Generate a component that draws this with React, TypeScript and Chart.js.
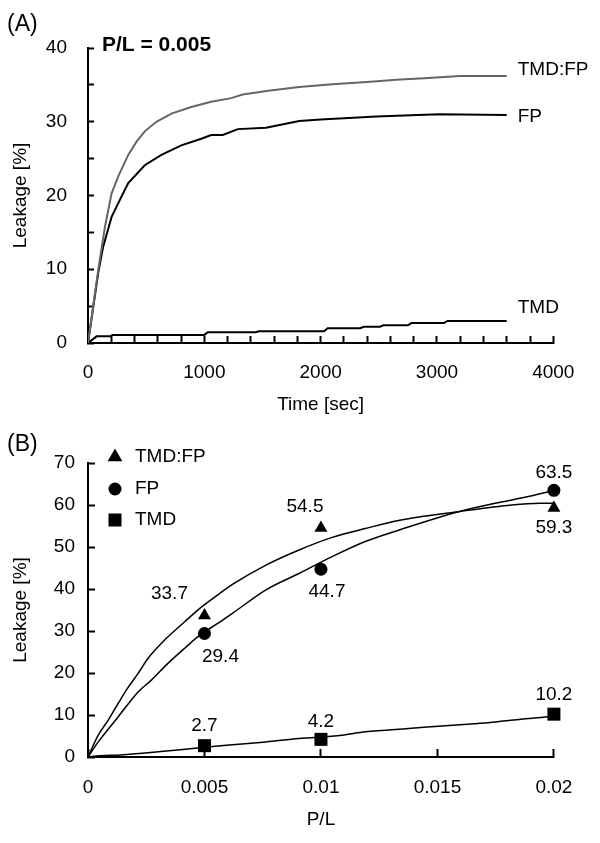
import { useEffect, useRef } from "react";
import { Chart, registerables } from "chart.js";
import { drawPoint } from "chart.js/helpers";

Chart.register(...registerables);

// ---------------- Panel A: leakage vs time (P/L = 0.005) ----------------
const timeTmdFp = [0, 88, 146, 203, 260, 346, 417, 488, 588, 717, 888, 1059, 1231, 1330, 1550, 1816, 2100, 2400, 2650, 2890, 3200, 3600];
const leakTmdFp = [0, 9.9, 15.8, 20.3, 22.6, 25.5, 27.3, 28.7, 30.0, 31.1, 32.0, 32.7, 33.2, 33.7, 34.2, 34.7, 35.1, 35.4, 35.7, 35.9, 36.2, 36.2];

const timeFp = [0, 88, 131, 203, 274, 346, 488, 631, 802, 974, 1059, 1159, 1288, 1530, 1816, 2000, 2480, 3015, 3600];
const leakFp = [0, 9.5, 13.1, 17.1, 19.4, 21.7, 24.1, 25.5, 26.8, 27.7, 28.2, 28.2, 29.0, 29.2, 30.1, 30.3, 30.7, 31.0, 30.9];

const timeTmd = [0, 74, 190, 210, 1000, 1030, 1440, 1470, 2030, 2060, 2340, 2370, 2510, 2540, 2750, 2780, 3060, 3090, 3600];
const leakTmd = [0, 0.9, 0.9, 1.1, 1.1, 1.45, 1.45, 1.6, 1.6, 2.0, 2.0, 2.2, 2.2, 2.4, 2.4, 2.7, 2.7, 3.0, 3.0];

const seriesNames = ["TMD:FP", "FP", "TMD"];
const noteA = "P/L = 0.005";
const xLabelsA = [0, 1000, 2000, 3000, 4000];
const yLabelsA = [0, 10, 20, 30, 40];

// ---------------- Panel B: leakage vs P/L ----------------
const plRatio = [0.005, 0.01, 0.02];
const measTmdFp = [33.7, 54.5, 59.3];
const measFp = [29.4, 44.7, 63.5];
const measTmd = [2.7, 4.2, 10.2];

const fitTmdFpX = [0, 0.00044, 0.00087, 0.0013, 0.00165, 0.00215, 0.00258, 0.0033, 0.00415, 0.0048, 0.00557, 0.0062, 0.00764, 0.00906, 0.01048, 0.0119, 0.01333, 0.0159, 0.01818, 0.0194, 0.02];
const fitTmdFpY = [0, 5.2, 8.8, 12.8, 16, 19.9, 23.5, 27.9, 32.2, 35.4, 38.6, 41.1, 45.7, 49.3, 52.3, 54.4, 56.3, 58.4, 60.0, 60.4, 60.4];

const fitFpX = [0, 0.00044, 0.0013, 0.00215, 0.00272, 0.00343, 0.00415, 0.0048, 0.00557, 0.0062, 0.00764, 0.00906, 0.01048, 0.0119, 0.01333, 0.0159, 0.01747, 0.0189, 0.0198];
const fitFpY = [0, 3.6, 9.6, 15.5, 18.3, 22.3, 25.9, 29.0, 31.8, 34.2, 39.8, 43.7, 47.7, 51.3, 54.0, 58.4, 60.4, 62.0, 63.2];

const fitTmdX = [0, 0.00051, 0.00137, 0.00235, 0.00336, 0.00479, 0.0062, 0.00764, 0.00906, 0.0109, 0.0119, 0.01376, 0.01474, 0.01675, 0.01761, 0.01859, 0.01974, 0.02];
const fitTmdY = [0, 0.3, 0.5, 0.9, 1.4, 2.2, 2.9, 3.6, 4.4, 5.2, 6.0, 6.8, 7.2, 8.0, 8.4, 9.0, 9.6, 9.8];

const xLabelsB = [0, 0.005, 0.01, 0.015, 0.02];
const yLabelsB = [0, 10, 20, 30, 40, 50, 60, 70];

// ---------------- fonts ----------------
function hasFont(name: string): boolean {
  const c = document.createElement("canvas").getContext("2d");
  if (!c) return false;
  const s = "TMD:FP 0123456789 Leakage [%]";
  c.font = "40px monospace";
  const a = c.measureText(s).width;
  c.font = `40px '${name}', monospace`;
  const b = c.measureText(s).width;
  return Math.abs(a - b) > 0.5;
}
const NARROW = hasFont("Liberation Sans Narrow");
const FAMILY = NARROW ? "'Liberation Sans Narrow', 'Liberation Sans', sans-serif" : "'Liberation Sans', Arial, sans-serif";
const K = NARROW ? 1 : 0.87;
const fs = (n: number) => Math.round(n * K);

const pts = (xs: number[], ys: number[]) => xs.map((x, i) => ({ x, y: ys[i] }));
const near = (v: number, list: number[]) => list.some((l) => Math.abs(l - v) < 1e-9);

const TICK = fs(22);
const LH = TICK * 1.2;

const annotA = {
  id: "annotA",
  afterDraw(chart: any) {
    const { ctx } = chart;
    const x = chart.scales.x;
    const y = chart.scales.y;
    const dy = [-6, 2, -13];
    ctx.save();
    ctx.fillStyle = "#000";
    ctx.textBaseline = "middle";
    ctx.textAlign = "left";
    ctx.font = `${fs(26)}px ${FAMILY}`;
    ctx.fillText("(A)", 7, 25);
    ctx.font = `bold ${fs(24)}px ${FAMILY}`;
    ctx.fillText(noteA, 102, 45);
    ctx.font = `${TICK}px ${FAMILY}`;
    chart.data.datasets.forEach((ds: any, i: number) => {
      const last = ds.data[ds.data.length - 1];
      ctx.fillText(ds.label, x.getPixelForValue(last.x) + 11, y.getPixelForValue(last.y) + dy[i]);
    });
    ctx.restore();
  },
};

const LABEL_OFFSETS = [
  [[-35, -22], [-16, -21], [0, 20]],
  [[16, 23], [6, 23], [0, -18]],
  [[0, -20], [0, -18], [0, -19]],
];

const annotB = {
  id: "annotB",
  afterDraw(chart: any) {
    const { ctx } = chart;
    const x = chart.scales.x;
    const y = chart.scales.y;
    ctx.save();
    ctx.fillStyle = "#000";
    ctx.textBaseline = "middle";
    ctx.textAlign = "left";
    ctx.font = `${fs(26)}px ${FAMILY}`;
    ctx.fillText("(B)", 7, 25);
    // legend
    const rows = [37, 69, 100];
    for (let s = 0; s < 3; s++) {
      const ds = chart.data.datasets[3 + s];
      ctx.fillStyle = "#000";
      const r = ds.pointStyle === "triangle" ? ds.pointRadius + 1 : ds.pointRadius;
      drawPoint(ctx, { pointStyle: ds.pointStyle, radius: r, rotation: 0, borderWidth: 0 } as any, 115, rows[s]);
      ctx.font = `${TICK}px ${FAMILY}`;
      ctx.fillText(ds.label, 135, rows[s]);
    }
    // value labels
    ctx.textAlign = "center";
    ctx.font = `${TICK}px ${FAMILY}`;
    for (let s = 0; s < 3; s++) {
      const ds = chart.data.datasets[3 + s];
      ds.data.forEach((p: any, i: number) => {
        const [ox, oy] = LABEL_OFFSETS[s][i];
        ctx.fillText(p.y.toFixed(1), x.getPixelForValue(p.x) + ox, y.getPixelForValue(p.y) + oy);
      });
    }
    ctx.restore();
  },
};

function axisCommon() {
  return {
    border: { color: "#000", width: 2 },
    ticks: { color: "#000", font: { family: FAMILY, size: TICK }, autoSkip: false, maxRotation: 0 },
  };
}

export default function App() {
  const refA = useRef<HTMLCanvasElement>(null);
  const refB = useRef<HTMLCanvasElement>(null);

  useEffect(() => {
    const titleFont = { family: FAMILY, size: TICK };
    const chartA = new Chart(refA.current!, {
      type: "line",
      data: {
        datasets: [
          { label: seriesNames[0], data: pts(timeTmdFp, leakTmdFp), borderColor: "#666666", borderWidth: 2, pointRadius: 0, tension: 0 },
          { label: seriesNames[1], data: pts(timeFp, leakFp), borderColor: "#000", borderWidth: 2, pointRadius: 0, tension: 0 },
          { label: seriesNames[2], data: pts(timeTmd, leakTmd), borderColor: "#000", borderWidth: 2, pointRadius: 0, tension: 0 },
        ],
      },
      options: {
        responsive: false,
        animation: false,
        events: [],
        layout: { padding: { left: 0, right: 45, top: 48, bottom: 0 } },
        plugins: { legend: { display: false }, tooltip: { enabled: false } },
        scales: {
          x: {
            type: "linear",
            min: 0,
            max: 4000,
            ...axisCommon(),
            ticks: {
              ...axisCommon().ticks,
              stepSize: 200,
              padding: 30 + 7 - LH / 2,
              callback: (v: any) => (near(Number(v), xLabelsA) ? String(v) : ""),
            },
            grid: { drawOnChartArea: false, drawTicks: true, tickLength: -7, tickWidth: 2, tickColor: "#000" },
            title: { display: true, text: "Time [sec]", color: "#000", font: titleFont, padding: { top: 0, bottom: Math.max(0, 15 - LH / 2) } },
            afterFit: (s: any) => { s.height = 77; },
          },
          y: {
            type: "linear",
            min: 0,
            max: 40,
            ...axisCommon(),
            ticks: {
              ...axisCommon().ticks,
              stepSize: 5,
              padding: 27,
              callback: (v: any) => (near(Number(v), yLabelsA) ? String(v) : ""),
            },
            grid: { drawOnChartArea: false, drawTicks: true, tickLength: -6, tickWidth: 2, tickColor: "#000" },
            title: { display: true, text: "Leakage [%]", color: "#000", font: titleFont, padding: { top: Math.max(0, 21 - LH / 2), bottom: 0 } },
            afterFit: (s: any) => { s.width = 88; },
          },
        },
      } as any,
      plugins: [annotA],
    });

    const chartB = new Chart(refB.current!, {
      type: "line",
      data: {
        datasets: [
          { label: "fit " + seriesNames[0], data: pts(fitTmdFpX, fitTmdFpY), borderColor: "#000", borderWidth: 1.5, pointRadius: 0, cubicInterpolationMode: "monotone" },
          { label: "fit " + seriesNames[1], data: pts(fitFpX, fitFpY), borderColor: "#000", borderWidth: 1.5, pointRadius: 0, cubicInterpolationMode: "monotone" },
          { label: "fit " + seriesNames[2], data: pts(fitTmdX, fitTmdY), borderColor: "#000", borderWidth: 1.5, pointRadius: 0, cubicInterpolationMode: "monotone" },
          { label: seriesNames[0], data: pts(plRatio, measTmdFp), showLine: false, clip: false, pointStyle: "triangle", pointRadius: 7.5, backgroundColor: "#000", borderWidth: 0 },
          { label: seriesNames[1], data: pts(plRatio, measFp), showLine: false, clip: false, pointStyle: "circle", pointRadius: 6.5, backgroundColor: "#000", borderWidth: 0 },
          { label: seriesNames[2], data: pts(plRatio, measTmd), showLine: false, clip: false, pointStyle: "rect", pointRadius: 9.2, backgroundColor: "#000", borderWidth: 0 },
        ],
      },
      options: {
        responsive: false,
        animation: false,
        events: [],
        layout: { padding: { left: 0, right: 44, top: 43, bottom: 0 } },
        plugins: { legend: { display: false }, tooltip: { enabled: false } },
        scales: {
          x: {
            type: "linear",
            min: 0,
            max: 0.02,
            ...axisCommon(),
            ticks: {
              ...axisCommon().ticks,
              stepSize: 0.005,
              padding: 31 + 8 - LH / 2,
              callback: (v: any) => (near(Number(v), xLabelsB) ? String(Number(v)) : ""),
            },
            grid: { drawOnChartArea: false, drawTicks: true, tickLength: -8, tickWidth: 2, tickColor: "#000" },
            title: { display: true, text: "P/L", color: "#000", font: titleFont, padding: { top: 0, bottom: Math.max(0, 23 - LH / 2) } },
            afterFit: (s: any) => { s.height = 86; },
          },
          y: {
            type: "linear",
            min: 0,
            max: 70,
            ...axisCommon(),
            ticks: {
              ...axisCommon().ticks,
              stepSize: 10,
              padding: 20,
              callback: (v: any) => (near(Number(v), yLabelsB) ? String(v) : ""),
            },
            grid: { drawOnChartArea: false, drawTicks: true, tickLength: -7, tickWidth: 2, tickColor: "#000" },
            title: { display: true, text: "Leakage [%]", color: "#000", font: titleFont, padding: { top: Math.max(0, 21 - LH / 2), bottom: 0 } },
            afterFit: (s: any) => { s.width = 88; },
          },
        },
      } as any,
      plugins: [annotB],
    });

    return () => {
      chartA.destroy();
      chartB.destroy();
    };
  }, []);

  return (
    <div style={{ position: "absolute", left: 0, top: 0, width: 600, height: 843, background: "#fff" }}>
      <canvas ref={refA} width={600} height={420} style={{ position: "absolute", left: 0, top: 0, width: 600, height: 420 }} />
      <canvas ref={refB} width={600} height={423} style={{ position: "absolute", left: 0, top: 420, width: 600, height: 423 }} />
    </div>
  );
}
